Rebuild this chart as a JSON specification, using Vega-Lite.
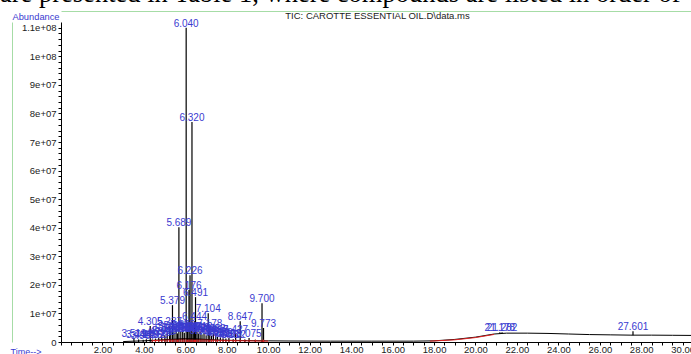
{
  "$schema": "https://vega.github.io/schema/vega-lite/v6.json",
  "autosize": {"type": "none"},
  "width": 630,
  "height": 320,
  "padding": {"left": 61, "top": 22, "right": 0, "bottom": 12},
  "background": "white",
  "title": {"text": "are presented in Table 1, where compounds are listed in order of", "font": "Liberation Serif", "fontSize": 26.5, "fontWeight": "normal", "color": "#000000", "anchor": "start", "frame": "group", "dx": -61, "dy": 3, "baseline": "alphabetic", "offset": -15, "limit": 0},
  "config": {"view": {"stroke": null}, "axis": {"grid": false, "labelFont": "Liberation Sans", "titleFont": "Liberation Sans", "labelColor": "#222222", "labelFontSize": 9.5, "tickColor": "#000000", "domainColor": "#000000", "titleFontWeight": "normal"}},
  "datasets": {
    "trace": [
      {"t": 3.0, "v": 150000}, {"t": 3.5, "v": 300000}, {"t": 4.0, "v": 400000}, {"t": 4.5, "v": 600000}, {"t": 5.0, "v": 800000}, {"t": 5.5, "v": 1000000}, {"t": 6.0, "v": 1200000}, {"t": 6.5, "v": 1100000}, {"t": 7.0, "v": 900000}, {"t": 7.5, "v": 700000}, {"t": 8.0, "v": 600000}, {"t": 9.0, "v": 500000}, {"t": 10.0, "v": 400000}, {"t": 11.0, "v": 350000}, {"t": 13.0, "v": 300000}, {"t": 15.0, "v": 300000}, {"t": 17.0, "v": 300000}, {"t": 18.0, "v": 400000}, {"t": 19.0, "v": 900000}, {"t": 20.0, "v": 1700000}, {"t": 20.9, "v": 2800000}, {"t": 21.5, "v": 3100000}, {"t": 22.5, "v": 3100000}, {"t": 23.5, "v": 3000000}, {"t": 24.5, "v": 2800000}, {"t": 25.5, "v": 2600000}, {"t": 26.5, "v": 2500000}, {"t": 27.5, "v": 2400000}, {"t": 28.5, "v": 2400000}, {"t": 29.5, "v": 2350000}, {"t": 30.4, "v": 2300000}
    ],
    "redline": [
      {"seg": "a", "t": 4.4, "v": 450000}, {"seg": "a", "t": 5.5, "v": 850000}, {"seg": "a", "t": 6.0, "v": 1000000}, {"seg": "a", "t": 7.0, "v": 750000}, {"seg": "a", "t": 8.0, "v": 500000}, {"seg": "a", "t": 10.0, "v": 300000},
      {"seg": "b", "t": 17.8, "v": 300000}, {"seg": "b", "t": 19.0, "v": 750000}, {"seg": "b", "t": 20.0, "v": 1550000}, {"seg": "b", "t": 20.9, "v": 2650000}
    ],
    "peaks": [
      {"rt": 3.519, "h": 1400000, "base": 0, "label": "3.519"},
      {"rt": 3.744, "h": 900000, "base": 0, "label": "3.744"},
      {"rt": 3.967, "h": 800000, "base": 0, "label": "3.967"},
      {"rt": 4.119, "h": 1000000, "base": 0, "label": "4.119"},
      {"rt": 4.305, "h": 5600000, "base": 0, "label": "4.305"},
      {"rt": 4.402, "h": 900000, "base": 0, "label": "4.402"},
      {"rt": 4.560, "h": 1200000, "base": 0, "label": "4.560"},
      {"rt": 4.716, "h": 1600000, "base": 0, "label": "4.716"},
      {"rt": 4.862, "h": 2000000, "base": 0, "label": "4.862"},
      {"rt": 5.013, "h": 2400000, "base": 0, "label": "5.013"},
      {"rt": 5.124, "h": 3000000, "base": 0, "label": "5.124"},
      {"rt": 5.237, "h": 5600000, "base": 0, "label": "5.237"},
      {"rt": 5.296, "h": 3800000, "base": 0, "label": "5.296"},
      {"rt": 5.379, "h": 12900000, "base": 0, "label": "5.379"},
      {"rt": 5.452, "h": 3400000, "base": 0, "label": "5.452"},
      {"rt": 5.553, "h": 4200000, "base": 0, "label": "5.553"},
      {"rt": 5.621, "h": 3000000, "base": 0, "label": "5.621"},
      {"rt": 5.689, "h": 40200000, "base": 0, "label": "5.689"},
      {"rt": 5.781, "h": 3600000, "base": 0, "label": "5.781"},
      {"rt": 5.872, "h": 4400000, "base": 0, "label": "5.872"},
      {"rt": 5.950, "h": 3200000, "base": 0, "label": "5.950"},
      {"rt": 6.040, "h": 110000000, "base": 0, "label": "6.040"},
      {"rt": 6.108, "h": 4000000, "base": 0, "label": "6.108"},
      {"rt": 6.176, "h": 18200000, "base": 0, "label": "6.176"},
      {"rt": 6.226, "h": 23400000, "base": 0, "label": "6.226"},
      {"rt": 6.281, "h": 3800000, "base": 0, "label": "6.281"},
      {"rt": 6.320, "h": 77000000, "base": 0, "label": "6.320"},
      {"rt": 6.384, "h": 3400000, "base": 0, "label": "6.384"},
      {"rt": 6.444, "h": 7300000, "base": 0, "label": "6.444"},
      {"rt": 6.491, "h": 15700000, "base": 0, "label": "6.491"},
      {"rt": 6.560, "h": 3600000, "base": 0, "label": "6.560"},
      {"rt": 6.628, "h": 3000000, "base": 0, "label": "6.628"},
      {"rt": 6.712, "h": 3800000, "base": 0, "label": "6.712"},
      {"rt": 6.803, "h": 2600000, "base": 0, "label": "6.803"},
      {"rt": 6.901, "h": 3200000, "base": 0, "label": "6.901"},
      {"rt": 7.003, "h": 2400000, "base": 0, "label": "7.003"},
      {"rt": 7.104, "h": 10100000, "base": 0, "label": "7.104"},
      {"rt": 7.178, "h": 4900000, "base": 0, "label": "7.178"},
      {"rt": 7.262, "h": 2200000, "base": 0, "label": "7.262"},
      {"rt": 7.353, "h": 3000000, "base": 0, "label": "7.353"},
      {"rt": 7.467, "h": 2800000, "base": 0, "label": "7.467"},
      {"rt": 7.553, "h": 1800000, "base": 0, "label": "7.553"},
      {"rt": 7.689, "h": 1600000, "base": 0, "label": "7.689"},
      {"rt": 7.820, "h": 1300000, "base": 0, "label": "7.820"},
      {"rt": 7.955, "h": 1200000, "base": 0, "label": "7.955"},
      {"rt": 8.103, "h": 1400000, "base": 0, "label": "8.103"},
      {"rt": 8.312, "h": 1000000, "base": 0, "label": "8.312"},
      {"rt": 8.427, "h": 2800000, "base": 0, "label": "8.427"},
      {"rt": 8.647, "h": 7300000, "base": 0, "label": "8.647"},
      {"rt": 8.870, "h": 900000, "base": 0, "label": ""},
      {"rt": 9.075, "h": 1400000, "base": 0, "label": "9.075"},
      {"rt": 9.380, "h": 800000, "base": 0, "label": ""},
      {"rt": 9.700, "h": 13600000, "base": 0, "label": "9.700"},
      {"rt": 9.773, "h": 4900000, "base": 0, "label": "9.773"},
      {"rt": 21.178, "h": 3400000, "base": 2900000, "label": "21.178"},
      {"rt": 21.282, "h": 3400000, "base": 3000000, "label": "21.282"},
      {"rt": 27.601, "h": 3800000, "base": 2400000, "label": "27.601"}
    ]
  },
  "resolve": {"axis": {"x": "independent", "y": "independent"}},
  "layer": [
    {
      "data": {"name": "trace"},
      "mark": {"type": "line", "color": "#000000", "strokeWidth": 1},
      "encoding": {
        "x": {"field": "t", "type": "quantitative", "scale": {"domain": [0, 30.4], "nice": false, "zero": false},
          "axis": {"orient": "bottom", "values": [0,0.5,1,1.5,2,2.5,3,3.5,4,4.5,5,5.5,6,6.5,7,7.5,8,8.5,9,9.5,10,10.5,11,11.5,12,12.5,13,13.5,14,14.5,15,15.5,16,16.5,17,17.5,18,18.5,19,19.5,20,20.5,21,21.5,22,22.5,23,23.5,24,24.5,25,25.5,26,26.5,27,27.5,28,28.5,29,29.5,30],
            "labelExpr": "datum.value % 2 == 0 && datum.value > 0 ? format(datum.value, '.2f') : ''", "tickSize": 3, "labelPadding": -1, "labelOverlap": false, "labelFlush": false,
            "title": "Time-->", "titleColor": "#3a3ad0", "titleFontSize": 9, "titleAlign": "left", "titleBaseline": "middle", "titleX": -51, "titleY": 9, "titleAnchor": "start"}},
        "y": {"field": "v", "type": "quantitative", "scale": {"domain": [0, 112000000], "nice": false},
          "axis": {"orient": "left", "values": [0,2000000,4000000,6000000,8000000,10000000,12000000,14000000,16000000,18000000,20000000,22000000,24000000,26000000,28000000,30000000,32000000,34000000,36000000,38000000,40000000,42000000,44000000,46000000,48000000,50000000,52000000,54000000,56000000,58000000,60000000,62000000,64000000,66000000,68000000,70000000,72000000,74000000,76000000,78000000,80000000,82000000,84000000,86000000,88000000,90000000,92000000,94000000,96000000,98000000,100000000,102000000,104000000,106000000,108000000,110000000],
            "labelExpr": "datum.value == 0 ? '0' : (datum.value % 10000000 == 0 ? (datum.value == 110000000 ? '1.1e+08' : (datum.value == 100000000 ? '1e+08' : (datum.value / 10000000) + 'e+07')) : '')",
            "tickSize": 3, "labelPadding": 2, "labelOverlap": false, "labelFlush": false,
            "title": "Abundance", "titleColor": "#3a3ad0", "titleFontSize": 9.3, "titleAngle": 0, "titleAlign": "left", "titleBaseline": "middle", "titleX": -49, "titleY": -6}}
      }
    },
    {
      "data": {"name": "redline"},
      "mark": {"type": "line", "color": "#e02020", "strokeWidth": 1},
      "encoding": {
        "x": {"field": "t", "type": "quantitative", "axis": null},
        "y": {"field": "v", "type": "quantitative", "axis": null},
        "detail": {"field": "seg"}
      }
    },
    {
      "data": {"name": "peaks"},
      "mark": {"type": "rule", "color": "#000000", "strokeWidth": 1.2},
      "encoding": {
        "x": {"field": "rt", "type": "quantitative",
          "axis": {"orient": "top", "offset": 11, "domainColor": "#a6dca6", "ticks": false, "labels": false,
            "title": "TIC: CAROTTE ESSENTIAL OIL.D\\data.ms", "titleFontSize": 9.5, "titleColor": "#222222", "titleX": 316, "titleY": 4, "titleBaseline": "middle", "titleAlign": "center"}},
        "y": {"field": "h", "type": "quantitative",
          "axis": {"orient": "left", "offset": 49, "domainColor": "#a6dca6", "ticks": false, "labels": false, "title": null}},
        "y2": {"field": "base"}
      }
    },
    {
      "data": {"name": "peaks"},
      "transform": [{"filter": "datum.rt > 4.4 && datum.rt < 10"}],
      "mark": {"type": "rule", "color": "#e02020", "strokeWidth": 1},
      "encoding": {
        "x": {"field": "rt", "type": "quantitative", "axis": null},
        "y": {"datum": 0, "axis": null},
        "y2": {"datum": 800000}
      }
    },
    {
      "data": {"name": "peaks"},
      "transform": [{"filter": "datum.label != ''"}],
      "mark": {"type": "text", "font": "Liberation Sans", "fontSize": 10, "color": "#3a3ad0", "baseline": "middle", "align": "center", "dy": -4},
      "encoding": {
        "x": {"field": "rt", "type": "quantitative", "axis": null},
        "y": {"field": "h", "type": "quantitative", "axis": null},
        "text": {"field": "label"}
      }
    }
  ]
}
